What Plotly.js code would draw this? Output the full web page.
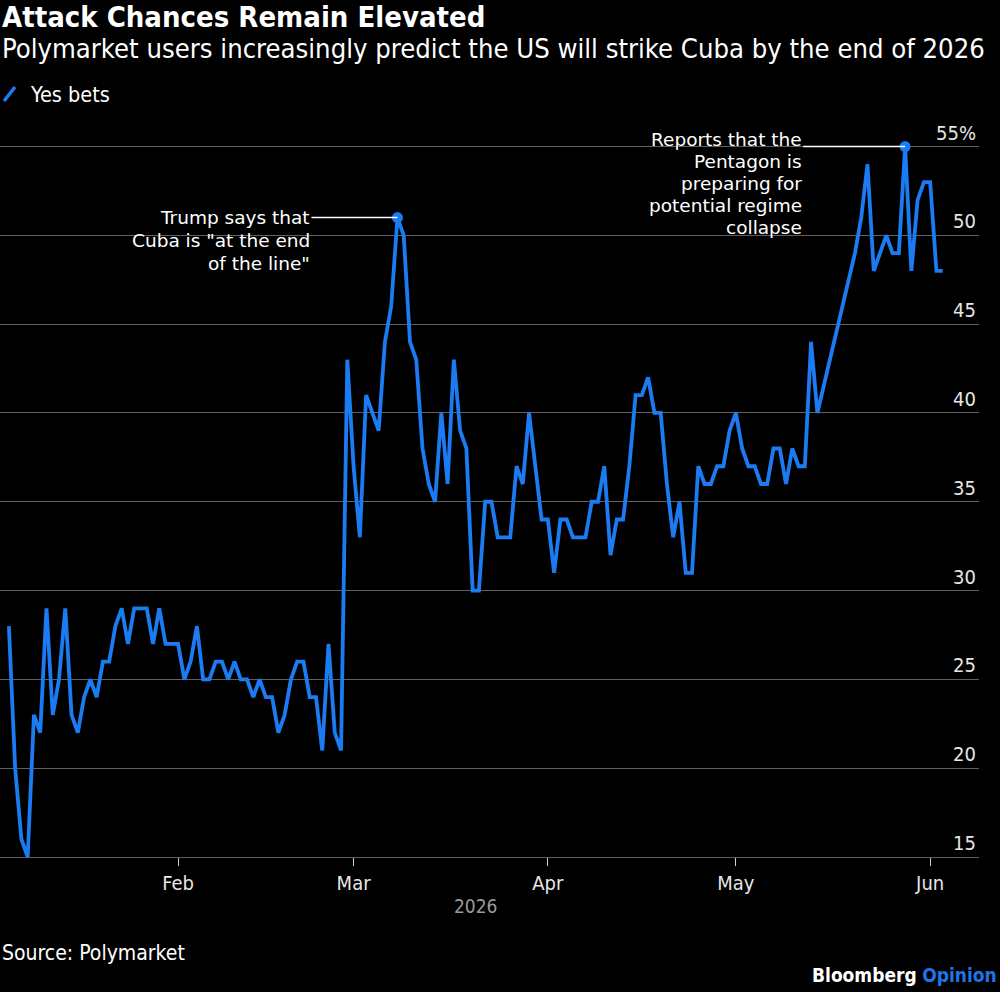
<!DOCTYPE html>
<html><head><meta charset="utf-8">
<script src="https://cdn.plot.ly/plotly-3.0.1.min.js"></script>
<style>html,body{margin:0;padding:0;background:#000;}#chart{width:1000px;height:992px;}</style>
</head><body><div id="chart"></div>
<script>
// ---- data ----
const dates = [
 '2026-01-05','2026-01-06','2026-01-07','2026-01-08','2026-01-09','2026-01-10','2026-01-11','2026-01-12','2026-01-13','2026-01-14',
 '2026-01-15','2026-01-16','2026-01-17','2026-01-18','2026-01-19','2026-01-20','2026-01-21','2026-01-22','2026-01-23','2026-01-24',
 '2026-01-25','2026-01-26','2026-01-27','2026-01-28','2026-01-29','2026-01-30','2026-01-31',
 '2026-02-01','2026-02-02','2026-02-03','2026-02-04','2026-02-05','2026-02-06','2026-02-07','2026-02-08','2026-02-09','2026-02-10',
 '2026-02-11','2026-02-12','2026-02-13','2026-02-14','2026-02-15','2026-02-16','2026-02-17','2026-02-18','2026-02-19','2026-02-20',
 '2026-02-21','2026-02-22','2026-02-23','2026-02-24','2026-02-25','2026-02-26','2026-02-27','2026-02-28',
 '2026-03-01','2026-03-02','2026-03-03','2026-03-04','2026-03-05','2026-03-06','2026-03-07','2026-03-08','2026-03-09','2026-03-10',
 '2026-03-11','2026-03-12','2026-03-13','2026-03-14','2026-03-15','2026-03-16','2026-03-17','2026-03-18','2026-03-19','2026-03-20',
 '2026-03-21','2026-03-22','2026-03-23','2026-03-24','2026-03-25','2026-03-26','2026-03-27','2026-03-28','2026-03-29','2026-03-30','2026-03-31',
 '2026-04-01','2026-04-02','2026-04-03','2026-04-04','2026-04-05','2026-04-06','2026-04-07','2026-04-08','2026-04-09','2026-04-10',
 '2026-04-11','2026-04-12','2026-04-13','2026-04-14','2026-04-15','2026-04-16','2026-04-17','2026-04-18','2026-04-19','2026-04-20',
 '2026-04-21','2026-04-22','2026-04-23','2026-04-24','2026-04-25','2026-04-26','2026-04-27','2026-04-28','2026-04-29','2026-04-30',
 '2026-05-01','2026-05-02','2026-05-03','2026-05-04','2026-05-05','2026-05-06','2026-05-07','2026-05-08','2026-05-09','2026-05-10',
 '2026-05-11','2026-05-12','2026-05-13','2026-05-14','2026-05-20','2026-05-21','2026-05-22','2026-05-23','2026-05-24','2026-05-25',
 '2026-05-26','2026-05-27','2026-05-28','2026-05-29','2026-05-30','2026-05-31',
 '2026-06-01','2026-06-02','2026-06-03'
];
const yesBets = [
 28,20,16,15,23,22,29,23,25,29,
 23,22,24,25,24,26,26,28,29,27,
 29,29,29,27,29,27,27,
 27,25,26,28,25,25,26,26,25,26,
 25,25,24,25,24,24,22,23,25,26,
 26,24,24,21,27,22,21,43,
 37,33,41,40,39,44,46,51,50,44,
 43,38,36,35,40,36,43,39,38,30,
 30,35,35,33,33,33,37,36,40,37,34,
 34,31,34,34,33,33,33,35,35,37,
 32,34,34,37,41,41,42,40,40,36,
 33,35,31,31,37,36,36,37,37,39,
 40,38,37,37,36,36,38,38,36,38,
 37,37,44,40,49,51,54,48,49,50,
 49,49,55,48,52,53,
 53,48,48
];
const monthTicks = ['2026-02-01','2026-03-01','2026-04-01','2026-05-01','2026-06-01'];
const monthLabels = ['Feb','Mar','Apr','May','Jun'];
const yTickVals = [15,20,25,30,35,40,45,50,55];
const yTickText = ['15','20','25','30','35','40','45','50','55%'];
const eventDates = ['2026-03-08','2026-05-28'];
const eventLines = [
  ['Trump says that','Cuba is "at the end','of the line"'],
  ['Reports that the','Pentagon is','preparing for','potential regime','collapse']
];

// ---- styling ----
const FONT = 'DejaVu Sans Condensed, DejaVu Sans, sans-serif';
const NOTE_FONT = 'DejaVu Sans, sans-serif';
const BLUE = '#1a7bf2';
const W = 1000, H = 992;
const M = {l:0, r:21, t:111, b:135};
const plotW = W - M.l - M.r, plotH = H - M.t - M.b;
const px = p => (p - M.l) / plotW;
const py = p => (H - M.b - p) / plotH;

const eventVals = eventDates.map(d => yesBets[dates.indexOf(d)]);
const evStyle = [
  {len: 86, shift: -85, y0: 0, step: 23},
  {len: 102, shift: -101, y0: 7, step: 22}
];

const annotations = [
  {text:'<b>Attack Chances Remain Elevated</b>', x:0, y:py(17), font:{size:29, color:'#fff'}},
  {text:'Polymarket users increasingly predict the US will strike Cuba by the end of 2026', x:0, y:py(49), font:{size:27.2, color:'#fff'}},
  {text:'Yes bets', x:px(28), y:py(95), font:{size:21.5, color:'#fff'}},
  {text:'Source: Polymarket', x:0, y:py(953), font:{size:21, color:'#fff'}},
  {text:'<b>Bloomberg</b> <b><span style="color:#1f74e6">Opinion</span></b>', x:px(999), xanchor:'right', y:py(975), font:{size:19, color:'#fff'}},
  {text:'2026', x:px(476), xanchor:'center', y:py(906), font:{size:19, color:'#9a9a9a'}}
].map(a => Object.assign({xref:'paper', yref:'paper', xanchor:'left', yanchor:'middle', showarrow:false}, a, {font:Object.assign({family:FONT}, a.font)}));

const shapes = [
  {type:'line', xref:'paper', yref:'paper', x0:px(4), y0:py(101), x1:px(15), y1:py(87), line:{color:BLUE, width:3.5}}
];

eventDates.forEach((d, k) => {
  const st = evStyle[k];
  shapes.push({type:'line', xref:'x', yref:'y', xsizemode:'pixel', xanchor:d, x0:-st.len, x1:0, y0:eventVals[k], y1:eventVals[k], line:{color:'#fff', width:1.5}});
  eventLines[k].forEach((t, i) => {
    annotations.push({text:t, x:d, y:eventVals[k], xref:'x', yref:'y', xanchor:'right', yanchor:'middle',
      xshift:st.shift, yshift:st.y0 - i*st.step, showarrow:false, align:'right', font:{family:NOTE_FONT, size:18.5, color:'#fff'}});
  });
});

const traces = [
  {type:'scatter', mode:'lines', x:dates, y:yesBets, line:{color:BLUE, width:3.8}, hoverinfo:'skip', showlegend:false},
  {type:'scatter', mode:'markers', x:eventDates, y:eventVals, marker:{color:BLUE, size:11}, cliponaxis:false, hoverinfo:'skip', showlegend:false}
];

const layout = {
  width:W, height:H, margin:M, paper_bgcolor:'#000', plot_bgcolor:'#000',
  font:{family:FONT, color:'#e6e6e6'},
  showlegend:false,
  xaxis:{type:'date', range:['2026-01-03 14:00','2026-06-08 19:00'], tickvals:monthTicks, ticktext:monthLabels,
    ticks:'outside', ticklen:8, tickcolor:'#cfcfcf', tickwidth:1, showgrid:false, zeroline:false,
    showline:true, linecolor:'#606060', linewidth:1, tickfont:{size:20, color:'#e6e6e6'}, automargin:false, fixedrange:true},
  yaxis:{range:[15,57], side:'right', tickvals:yTickVals, ticktext:yTickText, ticklabelposition:'inside top',
    ticks:'', showgrid:true, gridcolor:'#606060', gridwidth:1, zeroline:false, showline:false,
    tickfont:{size:20, color:'#e6e6e6'}, automargin:false, fixedrange:true},
  annotations:annotations, shapes:shapes
};

Plotly.newPlot('chart', traces, layout, {displayModeBar:false, staticPlot:true});
</script>
</body></html>
